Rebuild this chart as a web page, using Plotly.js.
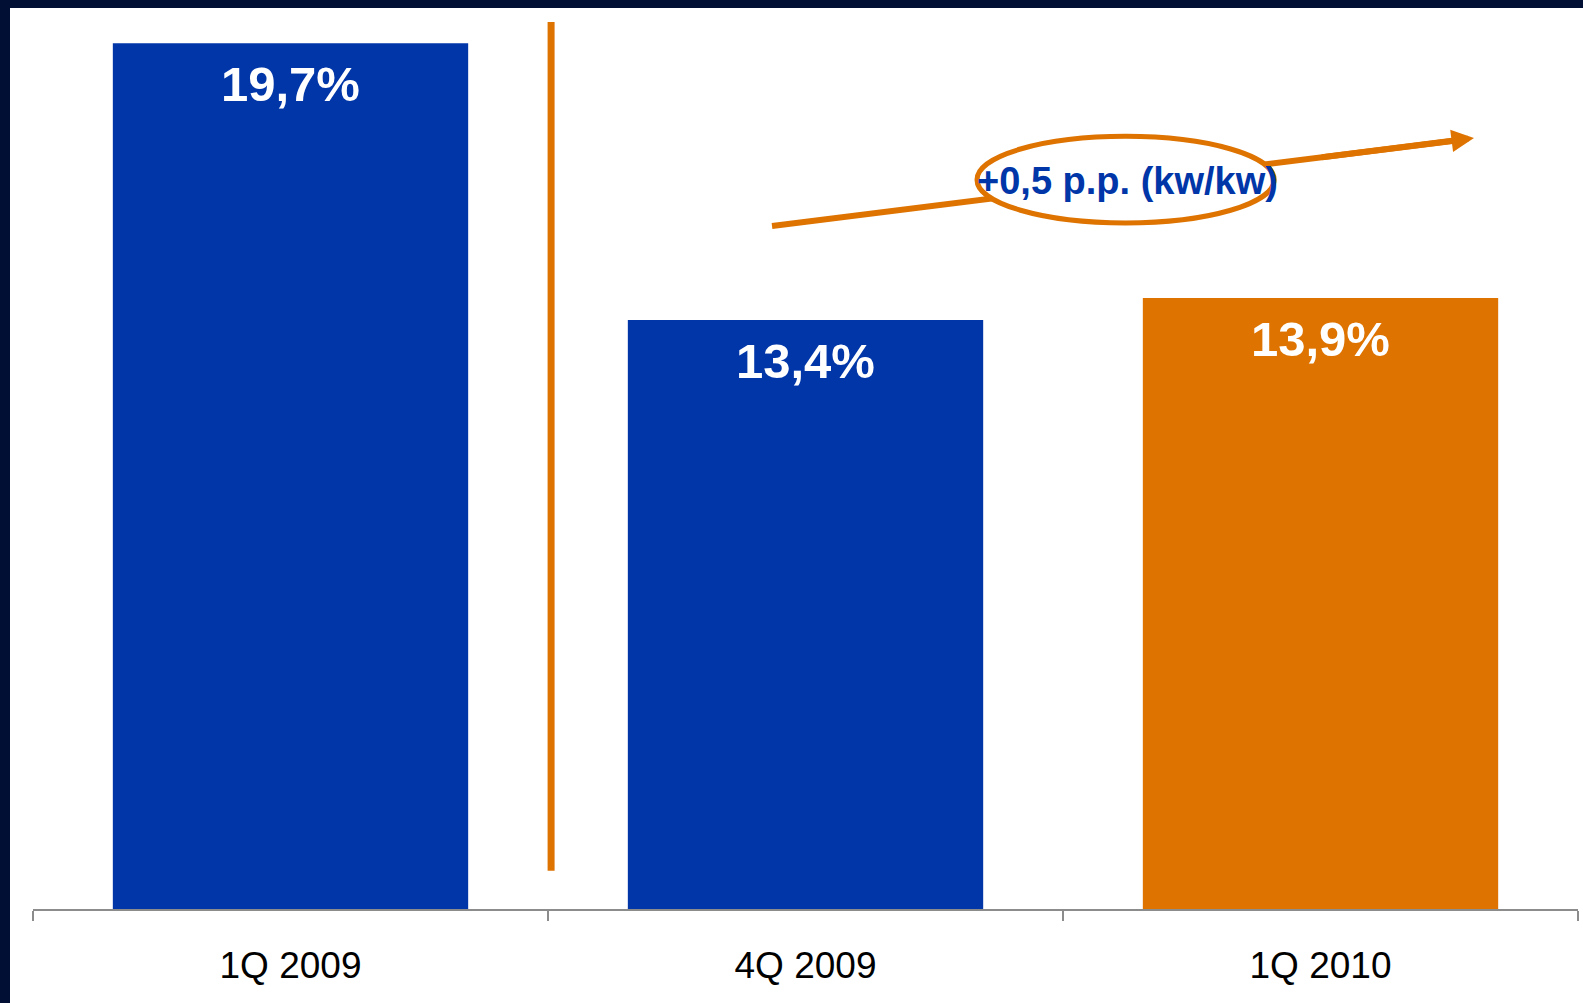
<!DOCTYPE html>
<html>
<head>
<meta charset="utf-8">
<script src="https://cdn.plot.ly/plotly-3.0.1.min.js"></script>
<style>
  html, body { margin: 0; padding: 0; background: #000f33; width: 1583px; height: 1003px; overflow: hidden; }
  #chart { position: absolute; left: 10px; top: 8px; width: 1573px; height: 995px; background: #ffffff; }
</style>
</head>
<body>
<div id="chart"></div>
<script>
// ---- data ----
const categories = ["1Q 2009", "4Q 2009", "1Q 2010"];
const values = [19.7, 13.4, 13.9];
const valueLabels = ["19,7%", "13,4%", "13,9%"];
const barColors = ["#0036a8", "#0036a8", "#de7300"];
const changeLabel = "+0,5 p.p. (kw/kw)";

const BLUE = "#0036a8";
const ORANGE = "#de7300";
const FONT = "Liberation Sans, Arial, sans-serif";

const trace = {
  type: "bar",
  x: categories,
  y: values,
  marker: { color: barColors, line: { width: 0 } },
  hoverinfo: "skip",
  showlegend: false
};

const labelAnnotations = categories.map((c, i) => ({
  x: c, y: values[i], xref: "x", yref: "y",
  text: "<b>" + valueLabels[i] + "</b>",
  showarrow: false, yanchor: "middle", yshift: -41,
  font: { family: FONT, size: 49, color: "#ffffff" }
}));

const layout = {
  width: 1573, height: 995,
  margin: { l: 23, r: 5, t: 0, b: 94 },
  paper_bgcolor: "#ffffff",
  plot_bgcolor: "#ffffff",
  bargap: 0.31,
  font: { family: FONT },
  xaxis: {
    type: "category",
    range: [-0.5, 2.5],
    showline: true, linecolor: "#8c8c8c", linewidth: 2,
    ticks: "outside", tickson: "boundaries", ticklen: 10, tickcolor: "#8c8c8c", tickwidth: 2,
    ticklabelstandoff: 23,
    tickfont: { family: FONT, size: 37, color: "#000000" },
    showgrid: false, zeroline: false, fixedrange: true
  },
  yaxis: {
    range: [0, 20.5],
    visible: false, showgrid: false, zeroline: false, fixedrange: true
  },
  shapes: [
    // vertical divider
    { type: "line", xref: "x", yref: "y", x0: 0.506, x1: 0.506, y0: 0.87, y1: 20.18,
      line: { color: ORANGE, width: 7 }, layer: "above" },
    // trend arrow shaft
    { type: "line", xref: "x", yref: "y", x0: 0.935, y0: 15.54, x1: 2.26, y1: 17.48,
      line: { color: ORANGE, width: 6 }, layer: "above" },
    // ellipse around change label
    { type: "circle", xref: "x", yref: "y", x0: 1.333, x1: 1.910, y0: 15.61, y1: 17.58,
      line: { color: ORANGE, width: 5 }, fillcolor: "#ffffff", layer: "above" }
  ],
  annotations: labelAnnotations.concat([
    { x: 2.298, y: 17.54, xref: "x", yref: "y", ax: 2.0, ay: 17.1, axref: "x", ayref: "y",
      text: "", showarrow: true, arrowhead: 2, arrowsize: 0.75, arrowwidth: 6, arrowcolor: ORANGE },
    { x: 1.625, y: 16.56, xref: "x", yref: "y",
      text: "<b>" + changeLabel + "</b>", showarrow: false,
      font: { family: FONT, size: 38, color: BLUE } }
  ])
};

Plotly.newPlot("chart", [trace], layout, { displayModeBar: false, staticPlot: true });
</script>
</body>
</html>
